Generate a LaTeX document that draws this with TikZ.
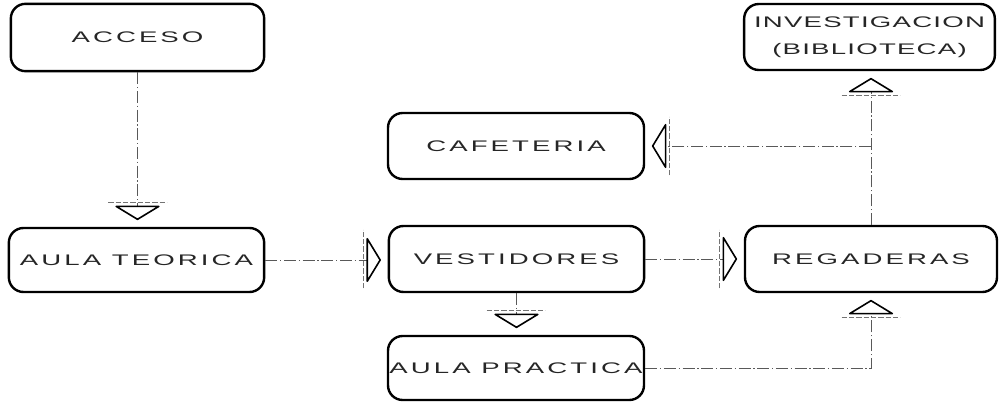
\documentclass[tikz,border=0pt]{standalone}
\usepackage{fontspec}
\setmainfont{Liberation Sans}[FakeStretch=1.8,LetterSpace=20]
\usetikzlibrary{arrows.meta,calc}
\begin{document}
\begin{tikzpicture}[x=0.75pt,y=-0.75pt,
  box/.style={draw=black,line width=1.8pt,rounded corners=11pt,inner sep=0pt,align=center,
    font=\fontsize{11.5}{20}\selectfont,text=black!85},
  conn/.style={draw=black!65,line width=0.6pt,dash pattern=on 9pt off 2pt on 1pt off 2pt,
    shorten >=5pt,
    -{Triangle[color=black,fill=white,length=11pt,width=36pt,line width=1.2pt,round]}},
  tick/.style={draw=black!55,line width=0.6pt,dash pattern=on 4pt off 1.5pt}]
\useasboundingbox (0,0) rectangle (1000,406);

% boxes
\node[box,minimum width=190pt,minimum height=50.5pt] (A) at (137.5,37.5) {ACCESO};
\node[box,minimum width=191.5pt,minimum height=48pt] (T) at (136.5,260) {AULA TEORICA};
\node[box,minimum width=191.5pt,minimum height=49.5pt] (V) at (516.5,259) {VESTIDORES};
\node[box,minimum width=192pt,minimum height=49.5pt] (C) at (516,146) {CAFETERIA};
\node[box,minimum width=192pt,minimum height=48pt] (P) at (516,368) {AULA PRACTICA};
\node[box,minimum width=189pt,minimum height=49.5pt] (R) at (871,259) {REGADERAS};
\node[box,minimum width=188pt,minimum height=49.5pt] (I) at (869.5,37)
  {\addfontfeature{LetterSpace=8}INVESTIGACION\\\addfontfeature{LetterSpace=8}(BIBLIOTECA)};

% connectors
\draw[conn] (A.south) -- (A.south |- T.north);
\draw[conn] (T.east) -- (T.east -| V.west);
\draw[conn] (V.east) -- (V.east -| R.west);
\draw[conn] (V.south) -- (V.south |- P.north);
\draw[conn] (P.east) -| (R.south);
\draw[conn] (R.north) -- (R.north |- I.south);
\coordinate (j) at (R.north |- C.east);
\draw[conn] (j) -- (C.east);

% base ticks of the arrowheads
\draw[tick] ($(A.south |- T.north)+(-22pt,18pt)$) -- ($(A.south |- T.north)+(22pt,18pt)$);
\draw[tick] ($(V.west)+(-18pt,-22pt)$) -- ($(V.west)+(-18pt,22pt)$);
\draw[tick] ($(R.west)+(-18pt,-22pt)$) -- ($(R.west)+(-18pt,22pt)$);
\draw[tick] ($(P.north)+(-22pt,18pt)$) -- ($(P.north)+(22pt,18pt)$);
\draw[tick] ($(R.south)+(-22pt,-18pt)$) -- ($(R.south)+(22pt,-18pt)$);
\draw[tick] ($(R.north |- I.south)+(-22pt,-18pt)$) -- ($(R.north |- I.south)+(22pt,-18pt)$);
\draw[tick] ($(C.east)+(18pt,-22pt)$) -- ($(C.east)+(18pt,22pt)$);
\end{tikzpicture}
\end{document}
